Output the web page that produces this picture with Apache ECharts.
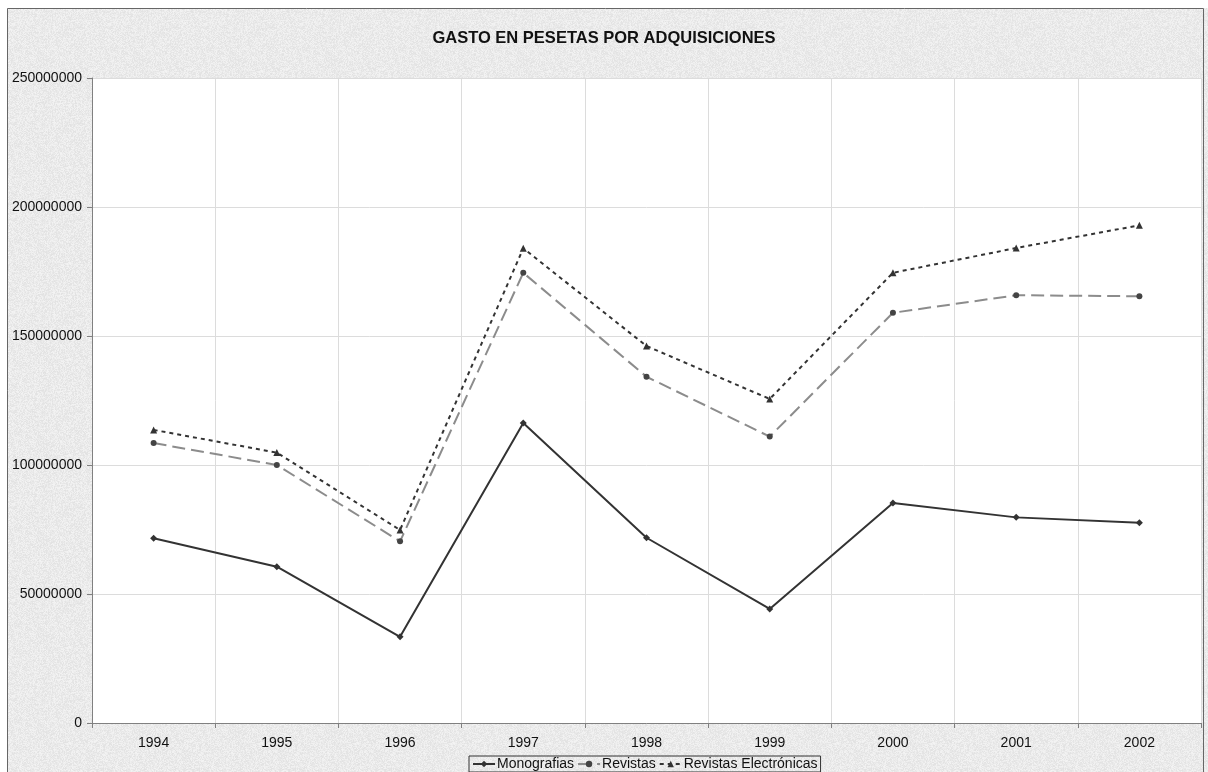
<!DOCTYPE html>
<html>
<head>
<meta charset="utf-8">
<script src="https://cdn.jsdelivr.net/npm/echarts@6/dist/echarts.min.js"></script>
<style>
  html, body { margin: 0; padding: 0; background: #fff; }
  #chart { width: 1208px; height: 772px; }
</style>
</head>
<body>
<div id="chart"></div>
<script>
var years = ['1994', '1995', '1996', '1997', '1998', '1999', '2000', '2001', '2002'];
var monografias = [71600000, 60600000, 33400000, 116300000, 71800000, 44200000, 85300000, 79700000, 77600000];
var revistas = [108500000, 100000000, 70400000, 174500000, 134200000, 111000000, 159000000, 165800000, 165400000];
var revistasElec = [113600000, 104800000, 74800000, 184000000, 146100000, 125600000, 174500000, 184100000, 192900000];

// grainy grey texture like the original spreadsheet chart area
function makeTexture() {
  var c = document.createElement('canvas');
  c.width = 96; c.height = 96;
  var ctx = c.getContext('2d');
  var img = ctx.createImageData(96, 96);
  var seed = 12345;
  for (var i = 0; i < 96 * 96; i++) {
    seed = (seed * 1103515245 + 12345) & 0x7fffffff;
    var g = 226 + ((seed >> 8) % 18);
    img.data[i * 4] = g;
    img.data[i * 4 + 1] = g;
    img.data[i * 4 + 2] = g;
    img.data[i * 4 + 3] = 255;
  }
  ctx.putImageData(img, 0, 0);
  return c;
}

var chart = echarts.init(document.getElementById('chart'), null, { renderer: 'canvas' });
var font = 'Arial, "Liberation Sans", sans-serif';

var option = {
  backgroundColor: { image: makeTexture(), repeat: 'repeat' },
  animation: false,
  textStyle: { fontFamily: font },
  title: {
    text: 'GASTO EN PESETAS POR ADQUISICIONES',
    left: 'center',
    top: 25,
    textStyle: { fontSize: 16.5, fontWeight: 'bold', color: '#111', fontFamily: font }
  },
  graphic: [
    { type: 'rect', shape: { x: 0, y: 0, width: 1208, height: 8 }, style: { fill: '#fff' } },
    { type: 'rect', shape: { x: 0, y: 0, width: 7, height: 772 }, style: { fill: '#fff' } },
    { type: 'rect', shape: { x: 7.5, y: 8.5, width: 1196, height: 770 }, style: { fill: null, stroke: '#666', lineWidth: 1 } }
  ],
  legend: {
    bottom: 0,
    left: 469,
    itemGap: 3,
    itemWidth: 22,
    itemHeight: 8,
    padding: [1, 3, 1, 3],
    borderColor: '#333',
    borderWidth: 1,
    backgroundColor: 'transparent',
    textStyle: { fontSize: 14, color: '#111', fontFamily: font, padding: [0, 0, 0, -3] },
    data: ['Monografias', 'Revistas', 'Revistas Electrónicas']
  },
  grid: {
    left: 92, top: 78, width: 1109, height: 645,
    show: true, backgroundColor: '#fff', borderWidth: 0
  },
  xAxis: {
    type: 'category',
    data: years,
    boundaryGap: true,
    axisLine: { lineStyle: { color: '#808080', width: 1 } },
    axisTick: { show: true, length: 5, lineStyle: { color: '#808080' } },
    axisLabel: { fontSize: 14, color: '#111', margin: 13, fontFamily: font },
    splitLine: { show: true, lineStyle: { color: '#dcdcdc' } }
  },
  yAxis: {
    type: 'value',
    min: 0, max: 250000000, interval: 50000000,
    axisLine: { show: true, lineStyle: { color: '#808080', width: 1 } },
    axisTick: { show: true, length: 5, lineStyle: { color: '#808080' } },
    axisLabel: {
      fontSize: 14, color: '#111', margin: 10, fontFamily: font,
      formatter: function (v) { return String(v); }
    },
    splitLine: { show: true, lineStyle: { color: '#dcdcdc' } }
  },
  series: [
    {
      name: 'Monografias',
      type: 'line',
      data: monografias,
      symbol: 'diamond',
      symbolSize: 7,
      itemStyle: { color: '#333' },
      lineStyle: { color: '#333', width: 2, type: 'solid' }
    },
    {
      name: 'Revistas',
      type: 'line',
      data: revistas,
      symbol: 'circle',
      symbolSize: 6,
      itemStyle: { color: '#444' },
      lineStyle: { color: '#8c8c8c', width: 2, type: [13, 6] }
    },
    {
      name: 'Revistas Electrónicas',
      type: 'line',
      data: revistasElec,
      symbol: 'triangle',
      symbolSize: 7,
      itemStyle: { color: '#333' },
      lineStyle: { color: '#333', width: 2, type: [4, 4] }
    }
  ]
};

chart.setOption(option);
</script>
</body>
</html>
